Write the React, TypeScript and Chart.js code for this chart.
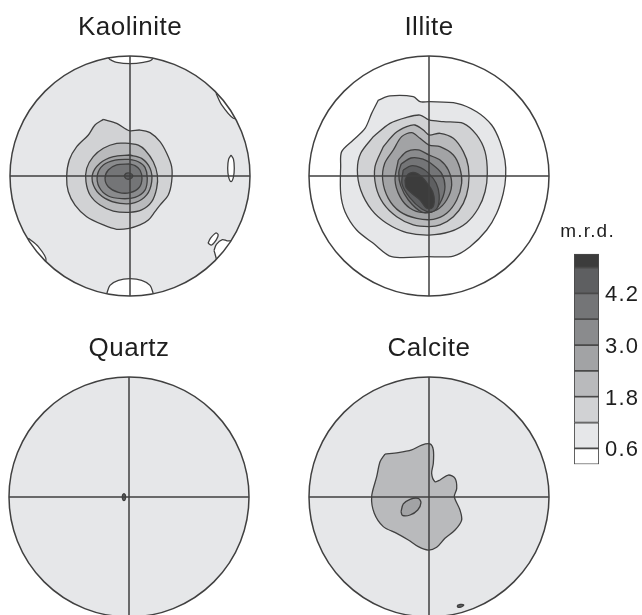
import React, { useEffect, useRef } from 'react';
import { Chart, registerables } from 'chart.js';

Chart.register(...registerables);

type Pt = [number, number];
type Contour = { level: number; pts: Pt[] };

const FONT = "'Liberation Sans', Arial, Helvetica, sans-serif";

// contour levels (m.r.d.) and the fill colour of each band (index 0 = below 0.6)
const LEVELS = [0.6, 1.2, 1.8, 2.4, 3.0, 3.6, 4.2, 4.8];
const LEVEL_COLORS = ['#ffffff', '#e6e7e9', '#d1d2d4', '#b9babc', '#a2a3a5', '#8a8b8d', '#747577', '#5e5f61', '#3c3c3c'];
const BAR_EDGES = [0.23, 0.6, 1.2, 1.8, 2.4, 3.0, 3.6, 4.2, 4.8, 5.12];
const BAR_TICKS = [0.6, 1.8, 3.0, 4.2];

const TITLES = ['Kaolinite', 'Illite', 'Quartz', 'Calcite'];
const BASE_LEVEL = [1, 0, 1, 1];

// ---------- Kaolinite ----------
const KAO_12: Pt[] = [[-0.222, 0.472], [-0.111, 0.439], [-0.006, 0.378], [0.083, 0.383], [0.167, 0.361], [0.25, 0.286], [0.306, 0.189], [0.347, 0.078], [0.347, -0.047], [0.319, -0.158], [0.25, -0.242], [0.208, -0.297], [0.153, -0.367], [0.083, -0.408], [-0.006, -0.436], [-0.111, -0.444], [-0.222, -0.408], [-0.361, -0.339], [-0.458, -0.242], [-0.514, -0.131], [-0.528, -0.006], [-0.506, 0.133], [-0.444, 0.244], [-0.347, 0.342], [-0.292, 0.425]];
const KAO_18: Pt[] = [[-0.006, 0.272], [-0.111, 0.272], [-0.222, 0.231], [-0.306, 0.161], [-0.361, 0.064], [-0.367, -0.047], [-0.333, -0.158], [-0.25, -0.242], [-0.139, -0.292], [-0.006, -0.303], [0.097, -0.283], [0.181, -0.214], [0.222, -0.103], [0.228, 0.008], [0.194, 0.119], [0.125, 0.217], [0.069, 0.258]];
const KAO_24: Pt[] = [[-0.006, 0.175], [-0.139, 0.161], [-0.25, 0.106], [-0.314, 0.008], [-0.292, -0.103], [-0.208, -0.186], [-0.083, -0.228], [0.042, -0.222], [0.139, -0.158], [0.181, -0.047], [0.167, 0.064], [0.097, 0.147]];
const KAO_30: Pt[] = [[-0.006, 0.139], [-0.125, 0.133], [-0.222, 0.092], [-0.272, 0.008], [-0.256, -0.094], [-0.181, -0.167], [-0.069, -0.189], [0.042, -0.178], [0.125, -0.117], [0.144, -0.019], [0.125, 0.072], [0.069, 0.119]];
const KAO_36: Pt[] = [[-0.006, 0.1], [-0.111, 0.092], [-0.181, 0.05], [-0.208, -0.019], [-0.181, -0.089], [-0.097, -0.136], [0, -0.139], [0.078, -0.094], [0.1, -0.019], [0.083, 0.05], [0.042, 0.086]];
const KAO_42: Pt[] = [[-0.05, 0], [-0.033, 0.022], [-0.006, 0.025], [0.022, 0.006], [0.011, -0.019], [-0.028, -0.025]];
const KAO_LOW_TOP: Pt[] = [[-0.167, 0.969], [-0.111, 0.947], [0, 0.936], [0.111, 0.947], [0.181, 0.969], [0.22, 1.05], [0, 1.1], [-0.22, 1.05]];
const KAO_LOW_BOTTOM: Pt[] = [[-0.194, -0.981], [-0.167, -0.911], [-0.097, -0.869], [0, -0.856], [0.097, -0.869], [0.167, -0.911], [0.194, -0.981], [0.22, -1.06], [0, -1.1], [-0.22, -1.06]];
const KAO_LOW_NE: Pt[] = [[0.717, 0.689], [0.764, 0.592], [0.861, 0.481], [0.92, 0.5], [0.85, 0.65], [0.74, 0.74]];
const KAO_LOW_E: Pt[] = [[0.842, 0.175], [0.862, 0.14], [0.869, 0.064], [0.862, -0.01], [0.842, -0.047], [0.822, -0.01], [0.814, 0.064], [0.822, 0.14]];
const KAO_LOW_SE1: Pt[] = [[0.65, -0.56], [0.67, -0.52], [0.715, -0.475], [0.735, -0.49], [0.72, -0.53], [0.68, -0.575]];
const KAO_LOW_SE2: Pt[] = [[0.7, -0.62], [0.72, -0.57], [0.77, -0.53], [0.81, -0.54], [0.9, -0.55], [0.75, -0.75]];
const KAO_LOW_SW: Pt[] = [[-0.847, -0.519], [-0.764, -0.589], [-0.7, -0.7], [-0.8, -0.75], [-0.9, -0.6]];

// ---------- Illite ----------
const ILL_06: Pt[] = [[-0.422, 0.633], [-0.325, 0.667], [-0.131, 0.661], [-0.075, 0.619], [0.003, 0.619], [0.231, 0.606], [0.397, 0.536], [0.522, 0.425], [0.592, 0.286], [0.633, 0.133], [0.639, -0.006], [0.619, -0.144], [0.564, -0.311], [0.481, -0.45], [0.342, -0.589], [0.203, -0.667], [-0.019, -0.672], [-0.311, -0.672], [-0.464, -0.561], [-0.603, -0.45], [-0.7, -0.297], [-0.736, -0.144], [-0.736, 0.078], [-0.728, 0.203], [-0.631, 0.3], [-0.533, 0.397], [-0.478, 0.522]];
const ILL_12: Pt[] = [[-0.464, 0.328], [-0.325, 0.439], [-0.186, 0.489], [-0.075, 0.508], [0, 0.467], [0.119, 0.453], [0.286, 0.439], [0.397, 0.342], [0.467, 0.203], [0.486, 0.022], [0.467, -0.131], [0.411, -0.269], [0.314, -0.389], [0.175, -0.464], [0, -0.492], [-0.186, -0.472], [-0.353, -0.394], [-0.478, -0.283], [-0.569, -0.117], [-0.597, 0.05], [-0.569, 0.189]];
const ILL_18: Pt[] = [[-0.381, 0.244], [-0.283, 0.356], [-0.186, 0.411], [-0.117, 0.425], [-0.047, 0.383], [0, 0.342], [0.092, 0.356], [0.203, 0.314], [0.286, 0.203], [0.328, 0.078], [0.328, -0.089], [0.286, -0.228], [0.203, -0.339], [0.092, -0.408], [0, -0.422], [-0.131, -0.408], [-0.269, -0.339], [-0.381, -0.228], [-0.442, -0.089], [-0.45, 0.078]];
const ILL_24: Pt[] = [[-0.297, 0.217], [-0.228, 0.328], [-0.144, 0.361], [-0.075, 0.314], [0, 0.258], [0.092, 0.244], [0.203, 0.175], [0.258, 0.064], [0.272, -0.061], [0.231, -0.2], [0.147, -0.311], [0.036, -0.361], [-0.103, -0.353], [-0.242, -0.297], [-0.339, -0.186], [-0.386, -0.033], [-0.369, 0.106]];
const ILL_30: Pt[] = [[-0.256, 0.133], [-0.186, 0.203], [-0.089, 0.217], [0, 0.175], [0.092, 0.133], [0.161, 0.05], [0.189, -0.075], [0.147, -0.2], [0.064, -0.283], [-0.047, -0.306], [-0.158, -0.269], [-0.242, -0.172], [-0.283, -0.033]];
const ILL_36: Pt[] = [[-0.232, 0.1], [-0.15, 0.15], [-0.05, 0.14], [0.036, 0.09], [0.106, 0.02], [0.133, -0.089], [0.105, -0.2], [0.04, -0.29], [-0.06, -0.3], [-0.172, -0.2], [-0.236, -0.08], [-0.252, 0.03]];
const ILL_42: Pt[] = [[-0.215, 0.05], [-0.15, 0.085], [-0.07, 0.07], [0.0, 0.02], [0.06, -0.06], [0.085, -0.16], [0.07, -0.265], [0.02, -0.3], [-0.06, -0.275], [-0.16, -0.18], [-0.225, -0.065]];
const ILL_48: Pt[] = [[-0.2, -0.033], [-0.172, 0.017], [-0.117, 0.028], [-0.061, -0.006], [-0.014, -0.061], [0.031, -0.131], [0.044, -0.214], [0.022, -0.269], [-0.025, -0.264], [-0.075, -0.2], [-0.144, -0.144], [-0.192, -0.094]];

// ---------- Quartz ----------
const QTZ_DOT: Pt[] = [[-0.042, 0.03], [-0.03, 0.015], [-0.03, -0.015], [-0.042, -0.03], [-0.054, -0.015], [-0.054, 0.015]];

// ---------- Calcite ----------
const CAL_18: Pt[] = [[-0.367, 0.358], [-0.256, 0.369], [-0.144, 0.392], [-0.061, 0.433], [0.008, 0.442], [0.036, 0.392], [0.036, 0.281], [0.022, 0.197], [0.05, 0.128], [0.092, 0.142], [0.161, 0.183], [0.217, 0.156], [0.231, 0.072], [0.211, 0.003], [0.258, -0.108], [0.272, -0.192], [0.217, -0.275], [0.133, -0.344], [0.064, -0.419], [-0.006, -0.442], [-0.089, -0.414], [-0.172, -0.358], [-0.269, -0.303], [-0.381, -0.247], [-0.456, -0.136], [-0.478, 0.003], [-0.436, 0.169], [-0.408, 0.294]];
const CAL_24: Pt[] = [[-0.233, -0.122], [-0.214, -0.058], [-0.158, -0.019], [-0.089, -0.011], [-0.067, -0.047], [-0.094, -0.108], [-0.158, -0.15], [-0.222, -0.153]];
const CAL_SPECK: Pt[] = [[0.235, -0.905], [0.26, -0.895], [0.29, -0.9], [0.27, -0.915], [0.24, -0.918]];

const CONTOURS: Contour[][] = [
  [
    { level: 0, pts: KAO_LOW_TOP }, { level: 0, pts: KAO_LOW_BOTTOM }, { level: 0, pts: KAO_LOW_NE },
    { level: 0, pts: KAO_LOW_E }, { level: 0, pts: KAO_LOW_SE1 }, { level: 0, pts: KAO_LOW_SE2 }, { level: 0, pts: KAO_LOW_SW },
    { level: 2, pts: KAO_12 }, { level: 3, pts: KAO_18 }, { level: 4, pts: KAO_24 },
    { level: 5, pts: KAO_30 }, { level: 6, pts: KAO_36 }, { level: 7, pts: KAO_42 },
  ],
  [
    { level: 1, pts: ILL_06 }, { level: 2, pts: ILL_12 }, { level: 3, pts: ILL_18 }, { level: 4, pts: ILL_24 },
    { level: 5, pts: ILL_30 }, { level: 6, pts: ILL_36 }, { level: 7, pts: ILL_42 }, { level: 8, pts: ILL_48 },
  ],
  [{ level: 7, pts: QTZ_DOT }],
  [{ level: 3, pts: CAL_18 }, { level: 4, pts: CAL_24 }, { level: 7, pts: CAL_SPECK }],
];

// page layout (canvas top-left corners)
const POSITIONS: Pt[] = [[0, 0], [299, 0], [-1, 321], [299, 321]];

const LINE = '#404040';

function closeLoop(pts: Pt[]) {
  return [...pts, pts[0]].map(([x, y]) => ({ x, y }));
}

const textSpacing = {
  id: 'textSpacing',
  beforeDraw(chart: any, _args: any, opts: any) {
    chart.ctx.letterSpacing = opts.spacing || '0px';
  },
};

const poleFrame = {
  id: 'poleFrame',
  beforeDatasetsDraw(chart: any, _args: any, opts: any) {
    const { ctx, scales } = chart;
    const cx = scales.x.getPixelForValue(0);
    const cy = scales.y.getPixelForValue(0);
    const r = scales.x.getPixelForValue(1) - cx;
    ctx.save();
    ctx.beginPath();
    ctx.arc(cx, cy, r, 0, Math.PI * 2);
    ctx.fillStyle = opts.base;
    ctx.fill();
    ctx.clip();
  },
  afterDatasetsDraw(chart: any) {
    const { ctx, scales } = chart;
    ctx.restore();
    const x = scales.x;
    const y = scales.y;
    const cx = x.getPixelForValue(0);
    const cy = y.getPixelForValue(0);
    const r = x.getPixelForValue(1) - cx;
    ctx.save();
    ctx.strokeStyle = LINE;
    ctx.lineWidth = 1.5;
    ctx.beginPath();
    ctx.moveTo(x.getPixelForValue(-1), cy);
    ctx.lineTo(x.getPixelForValue(1), cy);
    ctx.moveTo(cx, y.getPixelForValue(1));
    ctx.lineTo(cx, y.getPixelForValue(-1));
    ctx.stroke();
    ctx.beginPath();
    ctx.arc(cx, cy, r, 0, Math.PI * 2);
    ctx.stroke();
    ctx.restore();
  },
};

function PoleFigure({ index }: { index: number }) {
  const ref = useRef<HTMLCanvasElement>(null);
  useEffect(() => {
    if (!ref.current) return;
    const contours = CONTOURS[index];
    const chart = new Chart(ref.current, {
      type: 'scatter',
      data: {
        datasets: contours.map((c, i) => ({
          data: closeLoop(c.pts),
          showLine: true,
          fill: 'shape',
          backgroundColor: LEVEL_COLORS[c.level],
          borderColor: LINE,
          borderWidth: 1.3,
          pointRadius: 0,
          pointHoverRadius: 0,
          tension: 0.3,
          order: 100 - i,
        })) as any,
      },
      options: {
        responsive: false,
        animation: false,
        events: [],
        layout: { padding: { left: 10, right: 10, top: 0, bottom: 10 } },
        plugins: {
          legend: { display: false },
          tooltip: { enabled: false },
          title: {
            display: true,
            text: TITLES[index],
            color: '#1e1e1e',
            font: { family: FONT, size: 26, weight: 'normal' },
            padding: { top: 12.4, bottom: 12.4 },
          },
          poleFrame: { base: LEVEL_COLORS[BASE_LEVEL[index]] },
          textSpacing: { spacing: '0.5px' },
        } as any,
        scales: {
          x: { type: 'linear', min: -1, max: 1, display: false },
          y: { type: 'linear', min: -1, max: 1, display: false },
        },
      },
      plugins: [textSpacing, poleFrame],
    });
    return () => chart.destroy();
  }, [index]);
  const [left, top] = POSITIONS[index];
  return (
    <canvas
      ref={ref}
      width={260}
      height={306}
      style={{ position: 'absolute', left, top, display: 'block' }}
    />
  );
}

function ColorBar() {
  const ref = useRef<HTMLCanvasElement>(null);
  useEffect(() => {
    if (!ref.current) return;
    const chart = new Chart(ref.current, {
      type: 'bar',
      data: {
        labels: [''],
        datasets: LEVEL_COLORS.map((col, i) => ({
          data: [[BAR_EDGES[i], BAR_EDGES[i + 1]]],
          backgroundColor: col,
          borderColor: '#4a4a4a',
          borderWidth: 1.2,
          borderSkipped: false,
          grouped: false,
          barPercentage: 1,
          categoryPercentage: 1,
          yAxisID: 'y',
        })) as any,
      },
      options: {
        responsive: false,
        animation: false,
        events: [],
        layout: { padding: { left: 1, right: 0, top: 0, bottom: 10.7 } },
        plugins: {
          legend: { display: false },
          tooltip: { enabled: false },
          title: {
            display: true,
            text: 'm.r.d.',
            color: '#1e1e1e',
            font: { family: FONT, size: 19, weight: 'normal' },
            padding: { top: 10.5, bottom: 10.5 },
          },
          textSpacing: { spacing: '1.2px' },
        } as any,
        scales: {
          x: { display: false },
          yL: {
            position: 'left',
            display: true,
            grid: { display: false, drawTicks: false },
            border: { display: false },
            ticks: { display: false },
            afterFit: (s: any) => {
              s.width = 39;
              s.paddingTop = 0;
              s.paddingBottom = 0;
            },
          },
          y: {
            position: 'right',
            min: BAR_EDGES[0],
            max: BAR_EDGES[BAR_EDGES.length - 1],
            grid: { display: false, drawTicks: false },
            border: { display: false },
            afterBuildTicks: (s: any) => {
              s.ticks = BAR_TICKS.map((v) => ({ value: v }));
            },
            afterFit: (s: any) => {
              s.width = 41;
              s.paddingTop = 0;
              s.paddingBottom = 0;
            },
            ticks: {
              padding: 6,
              labelOffset: 2,
              color: '#1e1e1e',
              font: { family: FONT, size: 22 },
              callback: (v: any) => Number(v).toFixed(1),
            },
          },
        } as any,
      },
      plugins: [textSpacing],
    });
    return () => chart.destroy();
  }, []);
  return (
    <canvas
      ref={ref}
      width={106}
      height={265}
      style={{ position: 'absolute', left: 534, top: 210, display: 'block' }}
    />
  );
}

export default function App() {
  return (
    <div style={{ position: 'absolute', left: 0, top: 0, width: 642, height: 615, overflow: 'hidden', background: '#ffffff' }}>
      {TITLES.map((t, i) => (
        <PoleFigure key={t} index={i} />
      ))}
      <ColorBar />
    </div>
  );
}
